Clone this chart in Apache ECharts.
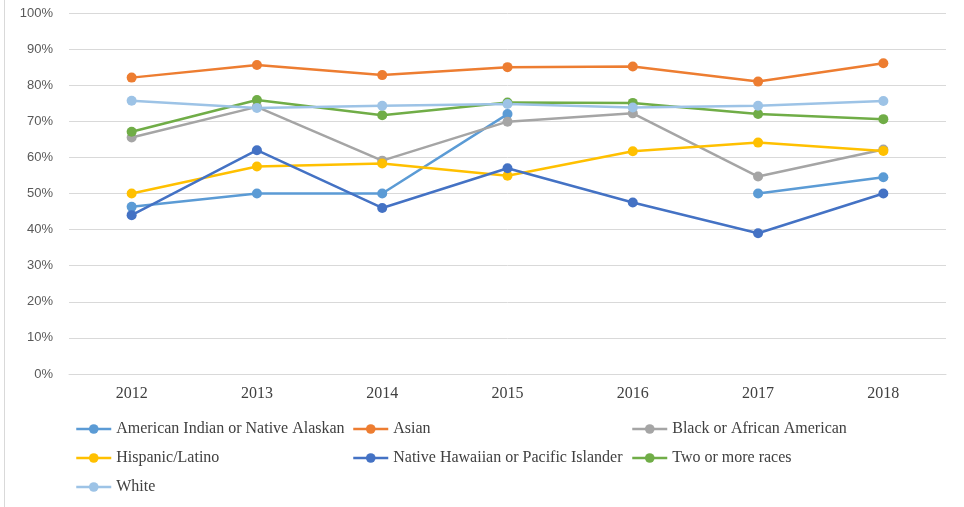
<!DOCTYPE html>
<html><head><meta charset="utf-8">
<script src="https://cdn.jsdelivr.net/npm/echarts@6/dist/echarts.min.js"></script>
<style>html,body{margin:0;padding:0;background:#fff}#c{width:964px;height:507px}</style>
</head><body><div id="c"></div>
<script>
const years = ['2012','2013','2014','2015','2016','2017','2018'];
const yTicks = [0,10,20,30,40,50,60,70,80,90,100];
const americanIndian = [46.3, 50.0, 50.0, 72.0, null, 50.0, 54.5];
const asian = [82.1, 85.6, 82.8, 85.0, 85.2, 81.0, 86.1];
const black = [65.5, 74.0, 59.1, 69.9, 72.2, 54.7, 62.2];
const hispanic = [50.0, 57.5, 58.3, 54.9, 61.7, 64.1, 61.8];
const nativeHawaiian = [44.0, 62.0, 46.0, 57.0, 47.5, 39.0, 50.0];
const twoOrMore = [67.1, 75.9, 71.7, 75.2, 75.1, 72.0, 70.6];
const white = [75.7, 73.7, 74.3, 74.8, 73.8, 74.3, 75.6];

const names = ['American Indian or Native Alaskan','Asian','Black or African American','Hispanic/Latino','Native Hawaiian or Pacific Islander','Two or more races','White'];
const seriesData = [americanIndian, asian, black, hispanic, nativeHawaiian, twoOrMore, white];
const colors = ['#5B9BD5','#ED7D31','#A5A5A5','#FFC000','#4472C4','#70AD47','#9DC3E6'];

const chart = echarts.init(document.getElementById('c'));
const legendBase = {
  orient: 'vertical', top: 416, itemGap: 13, itemWidth: 35, itemHeight: 12,
  lineStyle: {width: 2.5},
  textStyle: {fontFamily: 'Liberation Serif', fontSize: 16, color: '#404040'}
};
chart.setOption({
  animation: false,
  color: colors,
  grid: {left: 69, right: 18, top: 13, bottom: 133},
  graphic: [{type: 'line', shape: {x1: 4.5, y1: 0, x2: 4.5, y2: 507}, style: {stroke: '#d9d9d9', lineWidth: 1}}],
  legend: [
    Object.assign({}, legendBase, {left: 70, data: [names[0], names[3], names[6]]}),
    Object.assign({}, legendBase, {left: 347, data: [names[1], names[4]]}),
    Object.assign({}, legendBase, {left: 626, data: [names[2], names[5]]})
  ],
  xAxis: {
    type: 'category', data: years, boundaryGap: true,
    axisLine: {lineStyle: {color: '#d9d9d9'}}, axisTick: {show: false},
    axisLabel: {fontFamily: 'Liberation Serif', fontSize: 16, color: '#404040', margin: 12}
  },
  yAxis: {
    type: 'value', min: yTicks[0], max: yTicks[yTicks.length-1], interval: 10,
    axisLabel: {formatter: '{value}%', fontFamily: 'Liberation Sans', fontSize: 13, color: '#595959', margin: 16},
    splitLine: {lineStyle: {color: '#d9d9d9', width: 1}},
    axisLine: {show: false}, axisTick: {show: false}
  },
  series: names.map((n, i) => ({
    name: n, type: 'line', data: seriesData[i],
    symbol: 'circle', symbolSize: 10,
    lineStyle: {width: 2.5, color: colors[i]},
    itemStyle: {color: colors[i]},
    connectNulls: false
  }))
});
</script></body></html>
